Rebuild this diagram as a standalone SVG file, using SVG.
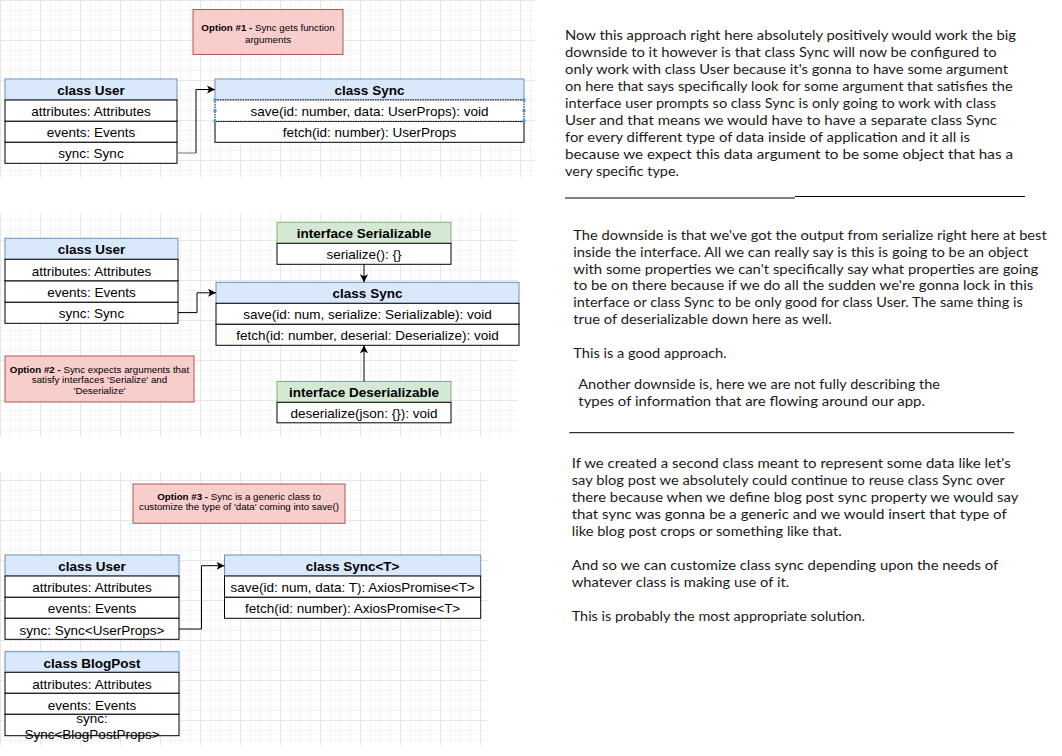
<svg xmlns="http://www.w3.org/2000/svg" width="1062" height="756" viewBox="0 0 1062 756">
<style>
.hdr{fill:#dae8fc;stroke:#6c8ebf;stroke-width:1}
.ihdr{fill:#d5e8d4;stroke:#82b366;stroke-width:1}
.row{fill:#ffffff;stroke:#000000;stroke-width:1}
.note{fill:#f8cecc;stroke:#b85450;stroke-width:1}
.t{font-family:"Liberation Sans",Arial,Helvetica,sans-serif;font-size:13.5px;text-anchor:middle;fill:#000}
.b{font-weight:bold}
.n{font-family:"Liberation Sans",Arial,Helvetica,sans-serif;font-size:9.75px;text-anchor:middle;fill:#000}
.p{font-family:Lato,"Open Sans","DejaVu Sans",sans-serif;font-size:13.5px;fill:#1a1a1a}
.c{fill:none;stroke:#000;stroke-width:1}
.sep{stroke:#000;stroke-width:1}
.h{fill:#4a9ad8;stroke:none}
</style>
<defs>
<pattern id="grid" width="40" height="40" patternUnits="userSpaceOnUse">
<path d="M10.5 0V40M20.5 0V40M30.5 0V40M0 10.5H40M0 20.5H40M0 30.5H40" stroke="#f3f3f3" stroke-width="1" fill="none"/>
<path d="M0.5 0V40M0 0.5H40" stroke="#e6e6e6" stroke-width="1" fill="none"/>
</pattern>
<marker id="arr" markerWidth="9" markerHeight="9" refX="8" refY="4.5" orient="auto" markerUnits="userSpaceOnUse">
<path d="M0,0.5 L8,4.5 L0,8.5 L2,4.5 Z" fill="#000"/>
</marker>
</defs>
<rect width="1062" height="756" fill="#ffffff"/>
<g id="grid-bg">
<rect x="0" y="0" width="535" height="177" fill="url(#grid)"/>
<rect x="0" y="213" width="518" height="223" fill="url(#grid)"/>
<rect x="0" y="473" width="488" height="272" fill="url(#grid)"/>
</g>

<!-- Section 1 -->
<g id="note1">
<rect class="note" x="193" y="9.5" width="150" height="45"/>
<text class="n" x="268" y="31"><tspan class="b">Option #1 - </tspan>Sync gets function</text>
<text class="n" x="268" y="42.5">arguments</text>
</g>
<g id="user1">
<rect class="hdr" x="5" y="79" width="172" height="21"/>
<rect class="row" x="5" y="100" width="172" height="21.3"/>
<rect class="row" x="5" y="121.3" width="172" height="21"/>
<rect class="row" x="5" y="142.3" width="172" height="21"/>
<text class="t b" x="91" y="95">class User</text>
<text class="t" x="91" y="116.2">attributes: Attributes</text>
<text class="t" x="91" y="137.3">events: Events</text>
<text class="t" x="91" y="158.3">sync: Sync</text>
</g>
<g id="sync1">
<rect class="hdr" x="215" y="79" width="309" height="21"/>
<rect class="row" x="215" y="121.3" width="309" height="21"/>
<rect x="215" y="100" width="309" height="21.3" fill="#fff" stroke="#000" stroke-width="1" stroke-dasharray="1.5 1"/>
<text class="t b" x="369.5" y="95">class Sync</text>
<text class="t" x="369.5" y="116.2">save(id: number, data: UserProps): void</text>
<text class="t" x="369.5" y="137.3">fetch(id: number): UserProps</text>
<rect class="h" x="213.5" y="98.5" width="3" height="3"/>
<rect class="h" x="213.5" y="109.2" width="3" height="3"/>
<rect class="h" x="213.5" y="119.8" width="3" height="3"/>
<rect class="h" x="522.5" y="98.5" width="3" height="3"/>
<rect class="h" x="522.5" y="109.2" width="3" height="3"/>
<rect class="h" x="522.5" y="119.8" width="3" height="3"/>
</g>

<!-- Section 2 -->
<g id="user2">
<rect class="hdr" x="5" y="238.3" width="173" height="21"/>
<rect class="row" x="5" y="259.3" width="173" height="21.7"/>
<rect class="row" x="5" y="281" width="173" height="21.3"/>
<rect class="row" x="5" y="302.3" width="173" height="21"/>
<text class="t b" x="91.5" y="254.3">class User</text>
<text class="t" x="91.5" y="275.6">attributes: Attributes</text>
<text class="t" x="91.5" y="297.1">events: Events</text>
<text class="t" x="91.5" y="318.3">sync: Sync</text>
</g>
<g id="serializable">
<rect class="ihdr" x="277" y="222.3" width="174" height="21"/>
<rect class="row" x="277" y="243.3" width="174" height="21"/>
<text class="t b" x="364" y="238.3">interface Serializable</text>
<text class="t" x="364" y="259.3">serialize(): {}</text>
</g>
<g id="sync2">
<rect class="hdr" x="216" y="282.3" width="303" height="21"/>
<rect class="row" x="216" y="303.3" width="303" height="21"/>
<rect class="row" x="216" y="324.3" width="303" height="21"/>
<text class="t b" x="367.5" y="298.3">class Sync</text>
<text class="t" x="367.5" y="319.3">save(id: num, serialize: Serializable): void</text>
<text class="t" x="367.5" y="340.3">fetch(id: number, deserial: Deserialize): void</text>
</g>
<g id="deserializable">
<rect class="ihdr" x="277" y="381.5" width="174" height="20.8"/>
<rect class="row" x="277" y="402.3" width="174" height="20.5"/>
<text class="t b" x="364" y="397.4">interface Deserializable</text>
<text class="t" x="364" y="417.9">deserialize(json: {}): void</text>
</g>
<g id="note2">
<rect class="note" x="5" y="356" width="189" height="46"/>
<text class="n" x="99.5" y="373.2"><tspan class="b">Option #2 - </tspan>Sync expects arguments that</text>
<text class="n" x="99.5" y="383.3">satisfy interfaces 'Serialize' and</text>
<text class="n" x="99.5" y="393.5">'Deserialize'</text>
</g>

<!-- Section 3 -->
<g id="note3">
<rect class="note" x="133" y="484" width="212" height="39.3"/>
<text class="n" x="239" y="499.5"><tspan class="b">Option #3 - </tspan>Sync is a generic class to</text>
<text class="n" x="239" y="510.2">customize the type of 'data' coming into save()</text>
</g>
<g id="user3">
<rect class="hdr" x="5" y="555" width="174" height="21"/>
<rect class="row" x="5" y="576" width="174" height="21.3"/>
<rect class="row" x="5" y="597.3" width="174" height="21"/>
<rect class="row" x="5" y="618.3" width="174" height="21"/>
<text class="t b" x="92" y="571">class User</text>
<text class="t" x="92" y="592.2">attributes: Attributes</text>
<text class="t" x="92" y="613.3">events: Events</text>
<text class="t" x="92" y="634.5">sync: Sync&lt;UserProps&gt;</text>
</g>
<g id="sync3">
<rect class="hdr" x="224.5" y="555" width="256.2" height="21"/>
<rect class="row" x="224.5" y="576" width="256.2" height="21.3"/>
<rect class="row" x="224.5" y="597.3" width="256.2" height="21"/>
<text class="t b" x="352.6" y="571">class Sync&lt;T&gt;</text>
<text class="t" x="352.6" y="592.2">save(id: num, data: T): AxiosPromise&lt;T&gt;</text>
<text class="t" x="352.6" y="613.3">fetch(id: number): AxiosPromise&lt;T&gt;</text>
</g>
<g id="blogpost">
<rect class="hdr" x="5" y="651.7" width="174" height="20.6"/>
<rect class="row" x="5" y="672.3" width="174" height="21"/>
<rect class="row" x="5" y="693.3" width="174" height="21"/>
<rect class="row" x="5" y="714.3" width="174" height="21.4"/>
<text class="t b" x="92" y="668">class BlogPost</text>
<text class="t" x="92" y="688.8">attributes: Attributes</text>
<text class="t" x="92" y="710">events: Events</text>
<text class="t" x="92" y="723">sync:</text>
<text class="t" x="92" y="739">Sync&lt;BlogPostProps&gt;</text>
</g>

<g id="connectors">
<path d="M177,153 H196" fill="none" stroke="#888" stroke-width="1.2"/>
<path class="c" d="M196,153 V89.5 H215" marker-end="url(#arr)"/>
<path class="c" d="M178,312.6 H197 V292.8 H216" marker-end="url(#arr)"/>
<path class="c" d="M364,264.3 V282.3" marker-end="url(#arr)"/>
<path class="c" d="M364,381.5 V345.3" marker-end="url(#arr)"/>
<path class="c" d="M179,629 H201.5 V565.7 H224.5" marker-end="url(#arr)"/>
</g>

<g id="notes-text">
<text class="p" x="565" y="40" textLength="451" lengthAdjust="spacingAndGlyphs">Now this approach right here absolutely positively would work the big</text>
<text class="p" x="565" y="57" textLength="431.7" lengthAdjust="spacingAndGlyphs">downside to it however is that class Sync will now be configured to</text>
<text class="p" x="565" y="74" textLength="443" lengthAdjust="spacingAndGlyphs">only work with class User because it's gonna to have some argument</text>
<text class="p" x="565" y="91" textLength="447.7" lengthAdjust="spacingAndGlyphs">on here that says specifically look for some argument that satisfies the</text>
<text class="p" x="565" y="108" textLength="431" lengthAdjust="spacingAndGlyphs">interface user prompts so class Sync is only going to work with class</text>
<text class="p" x="565" y="125" textLength="432" lengthAdjust="spacingAndGlyphs">User and that means we would have to have a separate class Sync</text>
<text class="p" x="565" y="142" textLength="405" lengthAdjust="spacingAndGlyphs">for every different type of data inside of application and it all is</text>
<text class="p" x="565" y="159" textLength="448" lengthAdjust="spacingAndGlyphs">because we expect this data argument to be some object that has a</text>
<text class="p" x="565" y="176" textLength="114" lengthAdjust="spacingAndGlyphs">very specific type.</text>
<line class="sep" x1="565" y1="198" x2="795" y2="198"/>
<line class="sep" x1="795" y1="196.5" x2="1025" y2="196.5"/>

<text class="p" x="573.3" y="239.7" textLength="473.4" lengthAdjust="spacingAndGlyphs">The downside is that we've got the output from serialize right here at best</text>
<text class="p" x="573.3" y="256.5" textLength="455" lengthAdjust="spacingAndGlyphs">inside the interface. All we can really say is this is going to be an object</text>
<text class="p" x="573.3" y="273.5" textLength="465" lengthAdjust="spacingAndGlyphs">with some properties we can't specifically say what properties are going</text>
<text class="p" x="573.3" y="290.3" textLength="460" lengthAdjust="spacingAndGlyphs">to be on there because if we do all the sudden we're gonna lock in this</text>
<text class="p" x="573.3" y="307" textLength="449.4" lengthAdjust="spacingAndGlyphs">interface or class Sync to be only good for class User. The same thing is</text>
<text class="p" x="573.3" y="324" textLength="258.4" lengthAdjust="spacingAndGlyphs">true of deserializable down here as well.</text>
<text class="p" x="573.3" y="358" textLength="153.4" lengthAdjust="spacingAndGlyphs">This is a good approach.</text>
<text class="p" x="578.3" y="389" textLength="361.7" lengthAdjust="spacingAndGlyphs">Another downside is, here we are not fully describing the</text>
<text class="p" x="578.3" y="406" textLength="346.7" lengthAdjust="spacingAndGlyphs">types of information that are flowing around our app.</text>
<line class="sep" x1="569.3" y1="432.7" x2="1014" y2="432.7"/>

<text class="p" x="571.7" y="468" textLength="439" lengthAdjust="spacingAndGlyphs">If we created a second class meant to represent some data like let's</text>
<text class="p" x="571.7" y="485" textLength="433.3" lengthAdjust="spacingAndGlyphs">say blog post we absolutely could continue to reuse class Sync over</text>
<text class="p" x="571.7" y="502" textLength="446.6" lengthAdjust="spacingAndGlyphs">there because when we define blog post sync property we would say</text>
<text class="p" x="571.7" y="519" textLength="435" lengthAdjust="spacingAndGlyphs">that sync was gonna be a generic and we would insert that type of</text>
<text class="p" x="571.7" y="536" textLength="270" lengthAdjust="spacingAndGlyphs">like blog post crops or something like that.</text>
<text class="p" x="571.7" y="569.7" textLength="426.6" lengthAdjust="spacingAndGlyphs">And so we can customize class sync depending upon the needs of</text>
<text class="p" x="571.7" y="586.7" textLength="217.6" lengthAdjust="spacingAndGlyphs">whatever class is making use of it.</text>
<text class="p" x="571.7" y="621" textLength="293.3" lengthAdjust="spacingAndGlyphs">This is probably the most appropriate solution.</text>
</g>
</svg>
